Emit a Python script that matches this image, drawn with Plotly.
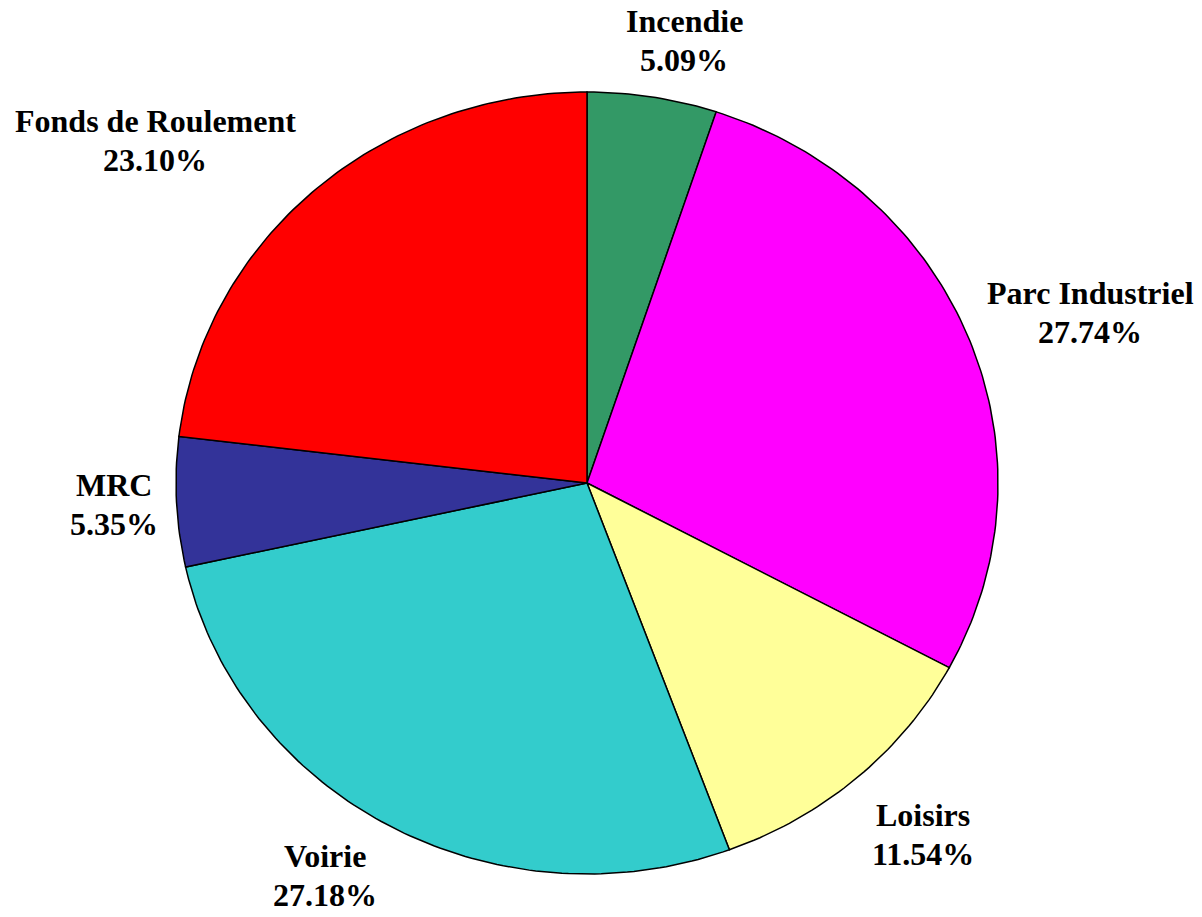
import numpy as np
import plotly.graph_objects as go

# ---- data ----
categories = ["Incendie", "Parc Industriel", "Loisirs", "Voirie", "MRC", "Fonds de Roulement"]
shares = [5.09, 27.74, 11.54, 27.18, 5.35, 23.10]
colors = ["#339966", "#FF00FF", "#FFFF99", "#33CCCC", "#333399", "#FF0000"]

# ---- layout / styling (label block centres, in ellipse units) ----
label_xy = [(0.236, 1.133), (1.224, 0.435), (0.818, -0.898),
            (-0.637, -1.005), (-1.151, -0.056), (-1.051, 0.877)]
LINE_GAP = 39  # pixels between the two label lines

W, H = 1202, 917
CX, CY = 587, 483      # pie centre in pixels (from top-left)
RX, RY = 411, 391      # horizontal / vertical radius in pixels

fig = go.Figure()
total = sum(shares)
start = 0.0
for name, val, col in zip(categories, shares, colors):
    frac0 = start / total
    frac1 = (start + val) / total
    n = max(int(400 * (frac1 - frac0)), 8)
    t = np.linspace(frac0, frac1, n) * 2 * np.pi
    xs = np.concatenate([[0], np.sin(t), [0]])
    ys = np.concatenate([[0], np.cos(t), [0]])
    fig.add_trace(go.Scatter(
        x=xs, y=ys, mode="lines", fill="toself", fillcolor=col,
        line=dict(color="black", width=1.5), name=name,
        hoverinfo="name", showlegend=False))
    start += val

font = dict(family="Liberation Serif", size=32, color="black")
for (lx, ly), name, val in zip(label_xy, categories, shares):
    for txt, shift in ((f"<b>{name}</b>", LINE_GAP / 2), (f"<b>{val:.2f}%</b>", -LINE_GAP / 2)):
        fig.add_annotation(
            x=lx, y=ly, xref="x", yref="y", text=txt, yshift=shift,
            showarrow=False, xanchor="center", yanchor="middle",
            font=font, align="center", borderpad=0)

fig.update_xaxes(range=[-CX / RX, (W - CX) / RX], visible=False, fixedrange=True)
fig.update_yaxes(range=[-(H - CY) / RY, CY / RY], visible=False, fixedrange=True)
fig.update_layout(
    width=W, height=H,
    margin=dict(l=0, r=0, t=0, b=0),
    paper_bgcolor="white", plot_bgcolor="white",
    showlegend=False,
)
fig.write_html(
    "out.html",
    config={"displayModeBar": False},
    post_script="document.body.style.margin='0';document.body.style.overflow='hidden';",
)
